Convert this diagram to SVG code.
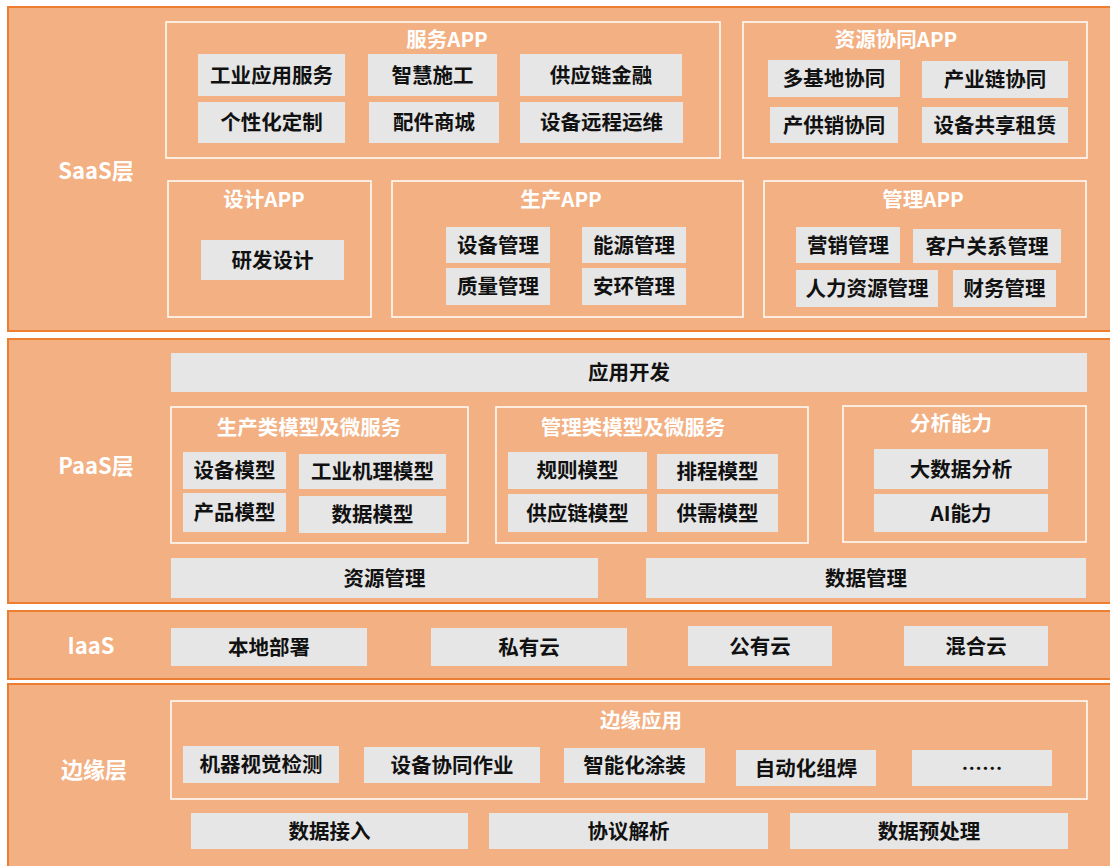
<svg xmlns="http://www.w3.org/2000/svg" width="1110" height="866" viewBox="0 0 1110 866">
<style>
.band{fill:#F3B083;stroke:#ED7D31;stroke-width:2}
.grp{fill:none;stroke:#FFFFFF;stroke-width:1.5}
.box{fill:#E6E6E6}
text{font-family:"Noto Sans CJK SC","Microsoft YaHei",sans-serif;font-weight:bold;text-anchor:middle;dominant-baseline:central;transform:translateY(-1.5px)}
.t{font-size:20.5px;fill:#111111}
.h{font-size:20.5px;fill:#FFFFFF}
.L{font-size:22px;fill:#FFFFFF}
</style>
<rect width="1110" height="866" fill="#FFFFFF"/>

<!-- Bands -->
<g id="saas-layer">
<rect class="band" x="8" y="7" width="1103" height="324"/>
<text class="L" x="96" y="170">SaaS层</text>
</g>
<g id="paas-layer">
<rect class="band" x="8" y="339" width="1103" height="264"/>
<text class="L" x="96" y="465">PaaS层</text>
</g>
<g id="iaas-layer">
<rect class="band" x="8" y="611" width="1103" height="68"/>
<text class="L" x="91" y="645">IaaS</text>
</g>
<g id="edge-layer">
<rect class="band" x="8" y="684" width="1103" height="190"/>
<text class="L" x="94" y="769">边缘层</text>
</g>

<!-- SaaS -->
<g id="service-app">
<rect class="grp" x="166" y="22" width="554" height="136"/>
<text class="h" x="447" y="39">服务APP</text>
<rect class="box" x="198" y="54" width="147" height="42"/><text class="t" x="271.5" y="75">工业应用服务</text>
<rect class="box" x="368" y="54" width="129" height="42"/><text class="t" x="432.5" y="75">智慧施工</text>
<rect class="box" x="520" y="54" width="162" height="42"/><text class="t" x="601" y="75">供应链金融</text>
<rect class="box" x="198" y="102" width="147" height="41"/><text class="t" x="271.5" y="122.5">个性化定制</text>
<rect class="box" x="369" y="102" width="130" height="41"/><text class="t" x="434" y="122.5">配件商城</text>
<rect class="box" x="520" y="102" width="163" height="41"/><text class="t" x="601.5" y="122.5">设备远程运维</text>
</g>
<g id="resource-app">
<rect class="grp" x="743" y="22" width="344" height="136"/>
<text class="h" x="896" y="39">资源协同APP</text>
<rect class="box" x="768" y="60" width="132" height="37"/><text class="t" x="834" y="78.5">多基地协同</text>
<rect class="box" x="922" y="61" width="146" height="37"/><text class="t" x="995" y="79.5">产业链协同</text>
<rect class="box" x="770" y="107" width="128" height="36"/><text class="t" x="834" y="125">产供销协同</text>
<rect class="box" x="922" y="107" width="146" height="36"/><text class="t" x="995" y="125">设备共享租赁</text>
</g>
<g id="design-app">
<rect class="grp" x="168" y="181" width="203" height="136"/>
<text class="h" x="264" y="199">设计APP</text>
<rect class="box" x="201" y="240" width="143" height="40"/><text class="t" x="272.5" y="260">研发设计</text>
</g>
<g id="production-app">
<rect class="grp" x="392" y="181" width="351" height="136"/>
<text class="h" x="561" y="199">生产APP</text>
<rect class="box" x="446" y="227" width="104" height="36"/><text class="t" x="498" y="245">设备管理</text>
<rect class="box" x="582" y="227" width="104" height="36"/><text class="t" x="634" y="245">能源管理</text>
<rect class="box" x="446" y="268" width="104" height="37"/><text class="t" x="498" y="286.5">质量管理</text>
<rect class="box" x="582" y="268" width="104" height="37"/><text class="t" x="634" y="286.5">安环管理</text>
</g>
<g id="management-app">
<rect class="grp" x="764" y="181" width="322" height="136"/>
<text class="h" x="923" y="199">管理APP</text>
<rect class="box" x="796" y="227" width="104" height="36"/><text class="t" x="848" y="245">营销管理</text>
<rect class="box" x="913" y="229" width="148" height="34"/><text class="t" x="987" y="246">客户关系管理</text>
<rect class="box" x="796" y="270" width="142" height="37"/><text class="t" x="867" y="288.5">人力资源管理</text>
<rect class="box" x="953" y="270" width="103" height="37"/><text class="t" x="1004.5" y="288.5">财务管理</text>
</g>

<!-- PaaS -->
<g id="app-dev">
<rect class="box" x="171" y="353" width="916" height="39"/><text class="t" x="629" y="372.5">应用开发</text>
</g>
<g id="prod-models">
<rect class="grp" x="171" y="407" width="297" height="136"/>
<text class="h" x="309" y="427">生产类模型及微服务</text>
<rect class="box" x="183" y="452" width="103" height="37"/><text class="t" x="234.5" y="470.5">设备模型</text>
<rect class="box" x="299" y="454" width="147" height="35"/><text class="t" x="372.5" y="471.5">工业机理模型</text>
<rect class="box" x="183" y="493" width="103" height="39"/><text class="t" x="234.5" y="512.5">产品模型</text>
<rect class="box" x="299" y="496" width="147" height="37"/><text class="t" x="372.5" y="514.5">数据模型</text>
</g>
<g id="mgmt-models">
<rect class="grp" x="496" y="407" width="312" height="136"/>
<text class="h" x="633" y="427">管理类模型及微服务</text>
<rect class="box" x="508" y="452" width="139" height="37"/><text class="t" x="577.5" y="470.5">规则模型</text>
<rect class="box" x="657" y="454" width="121" height="35"/><text class="t" x="717.5" y="471.5">排程模型</text>
<rect class="box" x="508" y="494" width="139" height="38"/><text class="t" x="577.5" y="513">供应链模型</text>
<rect class="box" x="657" y="494" width="121" height="38"/><text class="t" x="717.5" y="513">供需模型</text>
</g>
<g id="analytics">
<rect class="grp" x="843" y="406" width="243" height="136"/>
<text class="h" x="951" y="423">分析能力</text>
<rect class="box" x="874" y="449" width="174" height="40"/><text class="t" x="961" y="469">大数据分析</text>
<rect class="box" x="874" y="494" width="174" height="38"/><text class="t" x="961" y="513">AI能力</text>
</g>
<g id="resource-mgmt">
<rect class="box" x="171" y="558" width="427" height="40"/><text class="t" x="384.5" y="578">资源管理</text>
</g>
<g id="data-mgmt">
<rect class="box" x="646" y="558" width="440" height="40"/><text class="t" x="866" y="578">数据管理</text>
</g>

<!-- IaaS -->
<g id="local-deploy"><rect class="box" x="171" y="628" width="196" height="38"/><text class="t" x="269" y="647">本地部署</text></g>
<g id="private-cloud"><rect class="box" x="431" y="628" width="196" height="38"/><text class="t" x="529" y="647">私有云</text></g>
<g id="public-cloud"><rect class="box" x="688" y="626" width="144" height="40"/><text class="t" x="760" y="646">公有云</text></g>
<g id="hybrid-cloud"><rect class="box" x="904" y="626" width="144" height="40"/><text class="t" x="976" y="646">混合云</text></g>

<!-- Edge -->
<g id="edge-apps">
<rect class="grp" x="171" y="701" width="916" height="98"/>
<text class="h" x="641" y="720">边缘应用</text>
<rect class="box" x="183" y="746" width="156" height="37"/><text class="t" x="261" y="764.5">机器视觉检测</text>
<rect class="box" x="364" y="747" width="176" height="36"/><text class="t" x="452" y="765">设备协同作业</text>
<rect class="box" x="564" y="748" width="141" height="35"/><text class="t" x="634.5" y="765.5">智能化涂装</text>
<rect class="box" x="736" y="750" width="140" height="36"/><text class="t" x="806" y="768">自动化组焊</text>
<rect class="box" x="912" y="750" width="140" height="36"/><text class="t" x="982" y="768">……</text>
</g>
<g id="data-access"><rect class="box" x="191" y="813" width="277" height="36"/><text class="t" x="329.5" y="831">数据接入</text></g>
<g id="protocol-parse"><rect class="box" x="489" y="813" width="279" height="36"/><text class="t" x="628.5" y="831">协议解析</text></g>
<g id="data-preprocess"><rect class="box" x="790" y="813" width="278" height="36"/><text class="t" x="929" y="831">数据预处理</text></g>
</svg>
